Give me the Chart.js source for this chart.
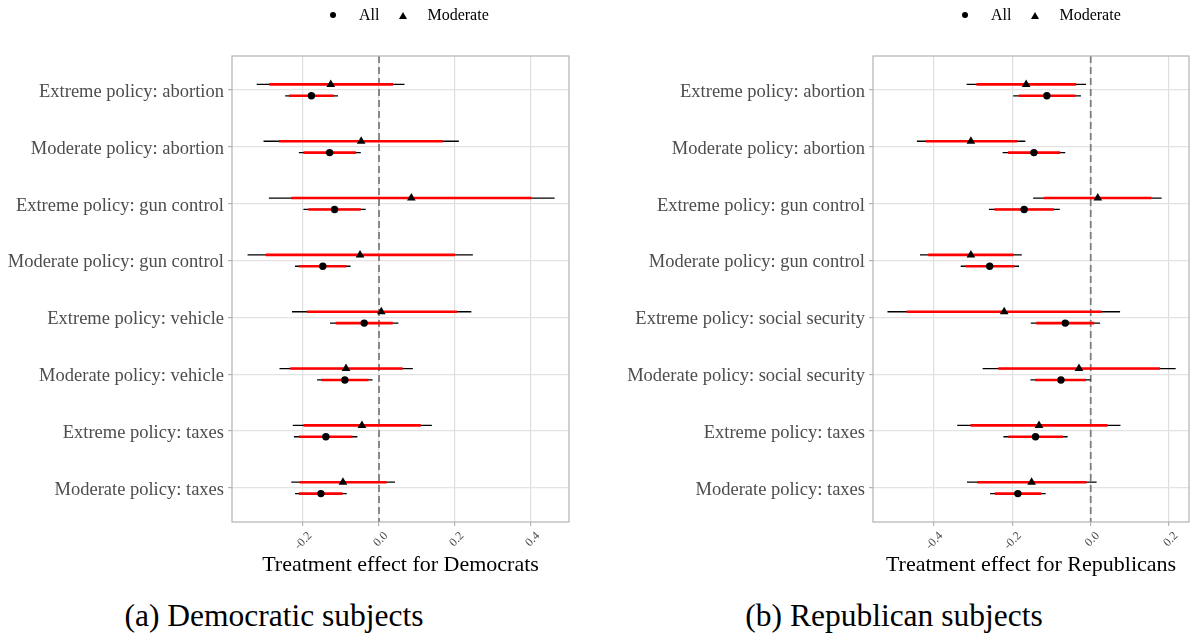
<!DOCTYPE html>
<html>
<head>
<meta charset="utf-8">
<script src="https://cdn.jsdelivr.net/npm/chart.js@4.4.1/dist/chart.umd.min.js"></script>
<style>
  body { margin: 0; background: #fff; font-family: "Liberation Serif", serif; }
  #page { position: relative; width: 1196px; height: 634px; overflow: hidden; }
  .panel { position: absolute; top: 0; }
  .legend { position: absolute; top: 5px; height: 20px; display: flex; align-items: center; font-size: 16px; color: #000; }
  .dot { width: 6px; height: 6px; border-radius: 50%; background: #000; margin-right: 23px; }
  .tri { width: 0; height: 0; border-left: 4px solid transparent; border-right: 4px solid transparent; border-bottom: 7px solid #000; margin-left: 20px; margin-right: 20px; }
  .caption { position: absolute; top: 598px; height: 36px; line-height: 36px; font-size: 31.5px; color: #000; text-align: center; white-space: nowrap; }
</style>
</head>
<body>
<div id="page">
  <div class="panel" style="left:0"><canvas id="dem" width="598" height="580"></canvas></div>
  <div class="panel" style="left:598px"><canvas id="rep" width="598" height="580"></canvas></div>

  <div class="legend" style="left:330px"><span class="dot"></span><span>All</span><span class="tri"></span><span>Moderate</span></div>
  <div class="legend" style="left:962px"><span class="dot"></span><span>All</span><span class="tri"></span><span>Moderate</span></div>

  <div class="caption" style="left:74px; width:400px">(a) Democratic subjects</div>
  <div class="caption" style="left:694px; width:400px">(b) Republican subjects</div>
</div>

<script>
// Democrats panel
const demLabels = ["Extreme policy: abortion", "Moderate policy: abortion", "Extreme policy: gun control",
  "Moderate policy: gun control", "Extreme policy: vehicle", "Moderate policy: vehicle",
  "Extreme policy: taxes", "Moderate policy: taxes"];
const demAllEst = [-0.178, -0.130, -0.117, -0.148, -0.039, -0.090, -0.140, -0.153];
const demAll95 = [[-0.247, -0.108], [-0.211, -0.048], [-0.199, -0.035], [-0.221, -0.075],
  [-0.129, 0.051], [-0.163, -0.017], [-0.224, -0.057], [-0.221, -0.085]];
const demAll90 = [[-0.237, -0.119], [-0.199, -0.061], [-0.186, -0.048], [-0.211, -0.086],
  [-0.114, 0.036], [-0.152, -0.028], [-0.211, -0.070], [-0.211, -0.096]];
const demModEst = [-0.127, -0.047, 0.085, -0.050, 0.006, -0.087, -0.045, -0.095];
const demMod95 = [[-0.322, 0.067], [-0.304, 0.210], [-0.290, 0.462], [-0.346, 0.247],
  [-0.229, 0.243], [-0.262, 0.089], [-0.227, 0.139], [-0.231, 0.042]];
const demMod90 = [[-0.289, 0.037], [-0.263, 0.168], [-0.231, 0.401], [-0.298, 0.200],
  [-0.190, 0.205], [-0.234, 0.062], [-0.199, 0.110], [-0.209, 0.020]];

// Republicans panel
const repLabels = ["Extreme policy: abortion", "Moderate policy: abortion", "Extreme policy: gun control",
  "Moderate policy: gun control", "Extreme policy: social security", "Moderate policy: social security",
  "Extreme policy: taxes", "Moderate policy: taxes"];
const repAllEst = [-0.112, -0.145, -0.170, -0.258, -0.065, -0.076, -0.141, -0.186];
const repAll95 = [[-0.198, -0.025], [-0.225, -0.065], [-0.260, -0.079], [-0.332, -0.183],
  [-0.153, 0.024], [-0.154, 0.000], [-0.223, -0.059], [-0.257, -0.115]];
const repAll90 = [[-0.184, -0.039], [-0.211, -0.078], [-0.246, -0.094], [-0.320, -0.195],
  [-0.139, 0.009], [-0.142, -0.012], [-0.210, -0.071], [-0.245, -0.126]];
const repModEst = [-0.165, -0.306, 0.018, -0.306, -0.221, -0.030, -0.132, -0.151];
const repMod95 = [[-0.317, -0.012], [-0.444, -0.167], [-0.147, 0.181], [-0.436, -0.176],
  [-0.519, 0.075], [-0.276, 0.217], [-0.341, 0.076], [-0.316, 0.015]];
const repMod90 = [[-0.292, -0.037], [-0.421, -0.188], [-0.120, 0.155], [-0.415, -0.197],
  [-0.470, 0.028], [-0.236, 0.177], [-0.307, 0.043], [-0.290, -0.011]];

const DODGE = 0.1;   // vertical offset of the two series within a row

// turn [lo, hi] pairs into one broken line (null y ends each segment)
function segments(ci, off) {
  const pts = [];
  ci.forEach(function (r, i) {
    const y = i + 1 + off;
    pts.push({x: r[0], y: y}, {x: r[1], y: y}, {x: r[1], y: null});
  });
  return pts;
}

function points(est, off) {
  return est.map(function (v, i) { return {x: v, y: i + 1 + off}; });
}

// grey frame round the panel
const panelBorder = {
  id: 'panelBorder',
  afterDatasetsDraw(chart) {
    const ctx = chart.ctx, a = chart.chartArea;
    ctx.save();
    ctx.strokeStyle = '#b3b3b3';
    ctx.lineWidth = 1.2;
    ctx.strokeRect(a.left, a.top, a.right - a.left, a.bottom - a.top);
    ctx.restore();
  }
};

function isMajor(v) {
  return Math.abs(Math.round(v * 10)) % 2 === 0;
}

function makeChart(id, labels, allEst, all95, all90, modEst, mod95, mod90, xMin, xMax, yWidth, padRight, title) {
  const n = labels.length;
  const data = {
    datasets: [
      { // Moderate estimates
        data: points(modEst, -DODGE), pointStyle: 'triangle', pointRadius: 5,
        backgroundColor: '#000', borderWidth: 0
      },
      { // All estimates
        data: points(allEst, DODGE), pointStyle: 'circle', pointRadius: 3.7,
        backgroundColor: '#000', borderWidth: 0
      },
      { data: segments(mod90, -DODGE), showLine: true, borderColor: '#ff0000', borderWidth: 2.6, pointRadius: 0 },
      { data: segments(all90, DODGE), showLine: true, borderColor: '#ff0000', borderWidth: 2.6, pointRadius: 0 },
      { data: segments(mod95, -DODGE), showLine: true, borderColor: '#000', borderWidth: 1.3, pointRadius: 0 },
      { data: segments(all95, DODGE), showLine: true, borderColor: '#000', borderWidth: 1.3, pointRadius: 0 },
      { // zero line
        data: [{x: 0, y: 0.4}, {x: 0, y: n + 0.6}], showLine: true, borderColor: '#7f7f7f',
        borderWidth: 1.8, borderDash: [7, 4], pointRadius: 0
      }
    ]
  };

  const config = {
    type: 'scatter',
    data: data,
    options: {
      responsive: false,
      animation: false,
      events: [],
      layout: { padding: { left: 0, right: padRight, top: 56, bottom: 0 } },
      scales: {
        x: {
          type: 'linear',
          min: xMin,
          max: xMax,
          afterFit: function (scale) { scale.height = 58; },
          border: { display: false },
          grid: {
            color: function (c) { return isMajor(c.tick.value) ? '#dedede' : '#e8e8e8'; },
            lineWidth: function (c) { return isMajor(c.tick.value) ? 1.2 : 0.8; },
            tickLength: 4,
            tickColor: function (c) { return isMajor(c.tick.value) ? '#b3b3b3' : 'rgba(0,0,0,0)'; }
          },
          ticks: {
            stepSize: 0.1,
            includeBounds: false,
            autoSkip: false,
            minRotation: 45,
            maxRotation: 45,
            labelOffset: 7,
            padding: 3,
            color: '#4d4d4d',
            font: { family: "'Liberation Serif', serif", size: 12 },
            callback: function (v) { return isMajor(v) ? (Math.round(v * 10) / 10).toFixed(1) : null; }
          },
          title: {
            display: true,
            text: title,
            color: '#000',
            font: { family: "'Liberation Serif', serif", size: 22 },
            padding: { top: 0, bottom: 2 }
          }
        },
        y: {
          type: 'linear',
          min: 0.4,
          max: n + 0.6,
          reverse: true,
          afterFit: function (scale) { scale.width = yWidth; },
          border: { display: false },
          grid: { color: '#e3e3e3', lineWidth: 1.2, tickLength: 4, tickColor: '#b3b3b3' },
          ticks: {
            stepSize: 1,
            includeBounds: false,
            autoSkip: false,
            padding: 4,
            labelOffset: 2,
            color: '#4d4d4d',
            font: { family: "'Liberation Serif', serif", size: 18.5 },
            callback: function (v) { return labels[Math.round(v) - 1]; }
          }
        }
      },
      plugins: {
        legend: { display: false },
        tooltip: { enabled: false }
      }
    },
    plugins: [panelBorder]
  };

  return new Chart(document.getElementById(id), config);
}

makeChart('dem', demLabels, demAllEst, demAll95, demAll90, demModEst, demMod95, demMod90,
  -0.387, 0.5, 232, 29, 'Treatment effect for Democrats');
makeChart('rep', repLabels, repAllEst, repAll95, repAll90, repModEst, repMod95, repMod90,
  -0.556, 0.251, 275, 7, 'Treatment effect for Republicans');
</script>
</body>
</html>
